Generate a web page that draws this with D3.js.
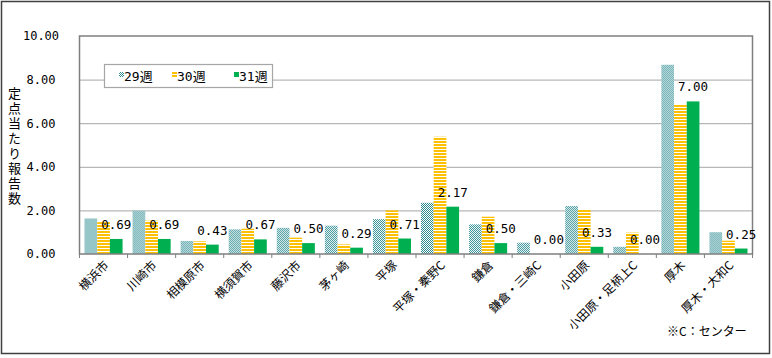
<!DOCTYPE html>
<html><head><meta charset="utf-8">
<script src="https://cdn.jsdelivr.net/npm/d3@7"></script>
<style>html,body{margin:0;padding:0;background:#fff;}svg{display:block;}</style>
</head><body>
<svg id="chart" width="772" height="358"></svg>
<script>
const categories = ["横浜市","川崎市","相模原市","横須賀市","藤沢市","茅ヶ崎","平塚","平塚・秦野C","鎌倉","鎌倉・三崎C","小田原","小田原・足柄上C","厚木","厚木・大和C"];
const seriesNames = ["29週","30週","31週"];
const w29 = [1.63, 1.99, 0.60, 1.13, 1.20, 1.30, 1.60, 2.35, 1.36, 0.52, 2.20, 0.33, 8.68, 1.00];
const w30 = [1.46, 1.53, 0.58, 1.16, 0.75, 0.44, 2.00, 5.38, 1.71, 0.00, 2.02, 0.98, 6.87, 0.61];
const w31 = [0.69, 0.69, 0.43, 0.67, 0.50, 0.29, 0.71, 2.17, 0.50, 0.00, 0.33, 0.00, 7.00, 0.25];
const yTicks = [0, 2, 4, 6, 8, 10];
const yTitle = "定点当たり報告数";
const note = "※C：センター";

(function () {
const seriesValues = [w29, w30, w31];
const svg = d3.select("#chart");
const mono = "'DejaVu Sans Mono', monospace";
const cjk = "'Noto Sans CJK JP', sans-serif";

const defs = svg.append("defs");
const p1 = defs.append("pattern").attr("id","pat29").attr("patternUnits","userSpaceOnUse").attr("width",2).attr("height",2);
p1.append("rect").attr("width",2).attr("height",2).attr("fill","#ffffff");
p1.append("rect").attr("x",0).attr("y",0).attr("width",1).attr("height",1).attr("fill","#2f8d92");
p1.append("rect").attr("x",1).attr("y",1).attr("width",1).attr("height",1).attr("fill","#2f8d92");
const p2 = defs.append("pattern").attr("id","pat30").attr("patternUnits","userSpaceOnUse").attr("width",4).attr("height",3);
p2.append("rect").attr("width",4).attr("height",3).attr("fill","#ffffff");
p2.append("rect").attr("x",0).attr("y",0).attr("width",4).attr("height",2).attr("fill","#ffc000");
const fills = ["url(#pat29)","url(#pat30)","#00b050"];

// outer border
svg.append("rect").attr("x",1.5).attr("y",1.5).attr("width",768).attr("height",352)
  .attr("fill","none").attr("stroke","#404040").attr("stroke-width",1.5);

const pLeft = 79.5, pRight = 752.5, pTop = 36, pBottom = 254;
const x0 = d3.scaleBand().domain(categories).range([pLeft, pRight]).padding(0);
const bw = x0.bandwidth();
const x1 = d3.scaleBand().domain(seriesNames).range([5, bw - 5]).padding(0);
const y = d3.scaleLinear().domain([0, 10]).range([pBottom, pTop]);

// gridlines
svg.append("g").selectAll("line").data(yTicks.filter(t => t > 0 && t < 10)).join("line")
  .attr("x1", pLeft).attr("x2", pRight).attr("y1", d => y(d) + 0.5).attr("y2", d => y(d) + 0.5)
  .attr("stroke","#a6a6a6").attr("stroke-width",1);

// y tick labels
svg.append("g").selectAll("text").data(yTicks).join("text")
  .attr("x", 41).attr("y", d => y(d)).attr("dy","0.36em").attr("text-anchor","middle")
  .attr("font-family", mono).attr("font-size", 12).attr("fill","#000")
  .text(d => d3.format(".2f")(d));

// y title (vertical, upright characters)
svg.append("text")
  .attr("x", 14.5).attr("y", 87)
  .attr("font-family", cjk).attr("font-size", 13).attr("fill","#000")
  .style("writing-mode","vertical-rl").style("text-orientation","upright")
  .style("letter-spacing","2px")
  .text(yTitle);

// bars
const groups = svg.append("g").selectAll("g").data(categories).join("g")
  .attr("transform", d => `translate(${x0(d)},0)`);
groups.selectAll("rect").data((d,i) => seriesNames.map((s,k) => ({s, k, v: seriesValues[k][i]}))).join("rect")
  .attr("x", d => x1(d.s)).attr("width", x1.bandwidth())
  .attr("y", d => y(d.v)).attr("height", d => y(0) - y(d.v))
  .attr("fill", d => fills[d.k]);

// frame
svg.append("rect").attr("x", pLeft).attr("y", pTop).attr("width", pRight - pLeft).attr("height", pBottom - pTop)
  .attr("fill","none").attr("stroke","#7f7f7f").attr("stroke-width",1.5);

// x ticks
svg.append("g").selectAll("line").data(d3.range(categories.length + 1)).join("line")
  .attr("x1", i => pLeft + i * bw).attr("x2", i => pLeft + i * bw)
  .attr("y1", pBottom).attr("y2", pBottom + 4).attr("stroke","#7f7f7f").attr("stroke-width",1);

// x labels
svg.append("g").selectAll("text").data(categories).join("text")
  .attr("transform", d => `translate(${x0(d) + bw / 2 + 3},${pBottom + 9}) rotate(-45)`)
  .attr("text-anchor","end").attr("dy","0.35em")
  .attr("font-family", cjk).attr("font-size", 12).attr("fill","#000").text(d => d);

// value labels for 31週
svg.append("g").selectAll("text").data(categories).join("text")
  .attr("x", (d,i) => x0(d) + x1("31週") + x1.bandwidth() / 2)
  .attr("y", (d,i) => y(w31[i]) - 10)
  .attr("text-anchor","middle").attr("font-family", mono).attr("font-size", 12.5).attr("fill","#000")
  .text((d,i) => d3.format(".2f")(w31[i]));

// legend
const lg = svg.append("g");
lg.append("rect").attr("x",104.5).attr("y",64.5).attr("width",168).attr("height",23)
  .attr("fill","#fff").attr("stroke","#a6a6a6").attr("stroke-width",1.2);
const lx = [119, 172, 234];
seriesNames.forEach((s,k) => {
  lg.append("rect").attr("x", lx[k]).attr("y", 72).attr("width",5).attr("height",5).attr("fill", fills[k]);
  lg.append("text").attr("x", lx[k] + 5).attr("y", 80.5).attr("font-family", mono + "," + cjk).attr("font-size", 13)
    .attr("fill","#000").text(s);
});

// note
svg.append("text").attr("x", 667).attr("y", 336).attr("font-family", cjk).attr("font-size", 12)
  .attr("fill","#000").text(note);
})();
</script>
</body></html>
